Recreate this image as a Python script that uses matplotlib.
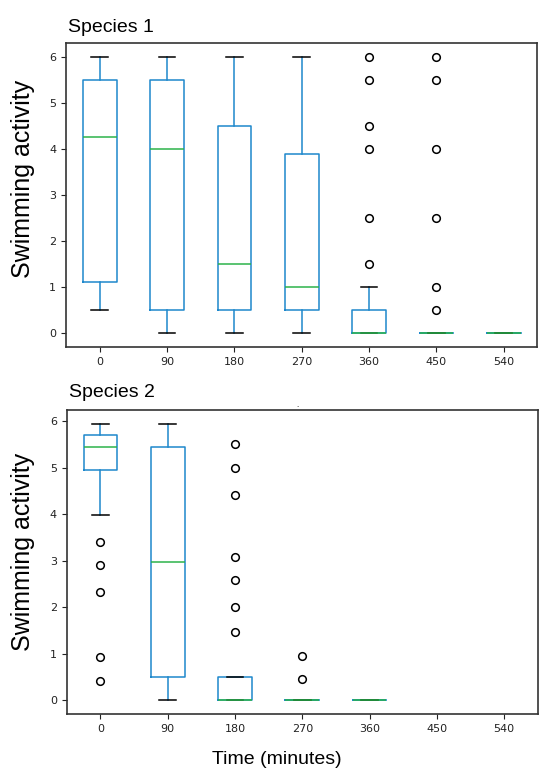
import matplotlib
matplotlib.use('Agg')
from matplotlib import pyplot as plt

# time points (minutes)
times = ['0', '90', '180', '270', '360', '450', '540']

# Species 1 box statistics
sp1_whislo = [0.5, 0.0, 0.0, 0.0, 0.0, 0.0, 0.0]
sp1_q1 = [1.12, 0.5, 0.5, 0.5, 0.0, 0.0, 0.0]
sp1_med = [4.25, 4.0, 1.5, 1.0, 0.0, 0.0, 0.0]
sp1_q3 = [5.5, 5.5, 4.5, 3.88, 0.5, 0.0, 0.0]
sp1_whishi = [6.0, 6.0, 6.0, 6.0, 1.0, 0.0, 0.0]
sp1_fliers = [[], [], [], [],
              [1.5, 2.5, 4.0, 4.5, 5.5, 6.0],
              [0.5, 1.0, 2.5, 4.0, 5.5, 6.0],
              []]

# Species 2 (only 0..360 have data)
sp2_whislo = [3.97, 0.0, 0.0, 0.0, 0.0]
sp2_q1 = [4.95, 0.5, 0.0, 0.0, 0.0]
sp2_med = [5.44, 2.97, 0.0, 0.0, 0.0]
sp2_q3 = [5.69, 5.44, 0.5, 0.0, 0.0]
sp2_whishi = [5.94, 5.94, 0.5, 0.0, 0.0]
sp2_fliers = [[3.41, 2.91, 2.32, 0.92, 0.42],
              [],
              [5.5, 5.0, 4.41, 3.08, 2.58, 2.0, 1.47],
              [0.95, 0.45],
              []]

BLUE = '#1e88cc'
GREEN = '#2cb34a'


def makeStats(lo, q1, med, q3, hi, fl):
    stats = []
    for i in range(len(med)):
        stats.append({'whislo': lo[i], 'q1': q1[i], 'med': med[i], 'q3': q3[i],
                      'whishi': hi[i], 'fliers': fl[i]})
    return stats


def drawBoxes(ax, stats):
    ax.bxp(stats, positions=range(1, len(stats) + 1), widths=0.5,
           boxprops=dict(color=BLUE, linewidth=1.1),
           whiskerprops=dict(color=BLUE, linewidth=1.1),
           capprops=dict(color='black', linewidth=1.1),
           medianprops=dict(color=GREEN, linewidth=1.1),
           flierprops=dict(marker='o', markerfacecolor='none', markeredgecolor='black',
                           markersize=5.5, markeredgewidth=1.1))
    ax.set_xlim(0.5, len(times) + 0.5)
    ax.set_xticks(range(1, len(times) + 1))
    ax.set_xticklabels(times)
    ax.tick_params(labelsize=8, colors='#222222', length=3.5)
    for s in ax.spines.values():
        s.set_color('#333333')
        s.set_linewidth(1.2)


fig = plt.figure(figsize=(5.5, 7.83), dpi=100)

ax1 = fig.add_axes([0.12, 0.5565, 0.857, 0.389])
drawBoxes(ax1, makeStats(sp1_whislo, sp1_q1, sp1_med, sp1_q3, sp1_whishi, sp1_fliers))
ax1.set_ylim(-0.3, 6.3)

ax2 = fig.add_axes([0.1213, 0.0881, 0.8567, 0.3883])
drawBoxes(ax2, makeStats(sp2_whislo, sp2_q1, sp2_med, sp2_q3, sp2_whishi, sp2_fliers))
ax2.set_ylim(-0.297, 6.237)

font = 'Liberation Sans'
fig.text(68 / 550, 1 - 31.7 / 783, 'Species 1', fontsize=14, family=font, va='baseline')
fig.text(69 / 550, 1 - 396.7 / 783, 'Species 2', fontsize=14, family=font, va='baseline')
fig.text(23.5 / 550, 1 - 178.5 / 783, 'Swimming activity', fontsize=18, family=font,
         rotation=90, ha='center', va='center')
fig.text(23.5 / 550, 1 - 551.5 / 783, 'Swimming activity', fontsize=18, family=font,
         rotation=90, ha='center', va='center')
fig.text(276.5 / 550, 1 - 759.6 / 783, 'Time (minutes)', fontsize=14, family=font,
         ha='center', va='center')
fig.text(297.7 / 550, 1 - 405 / 783, '.', fontsize=5, ha='center', va='center')

plt.savefig('out.png', dpi=100)
